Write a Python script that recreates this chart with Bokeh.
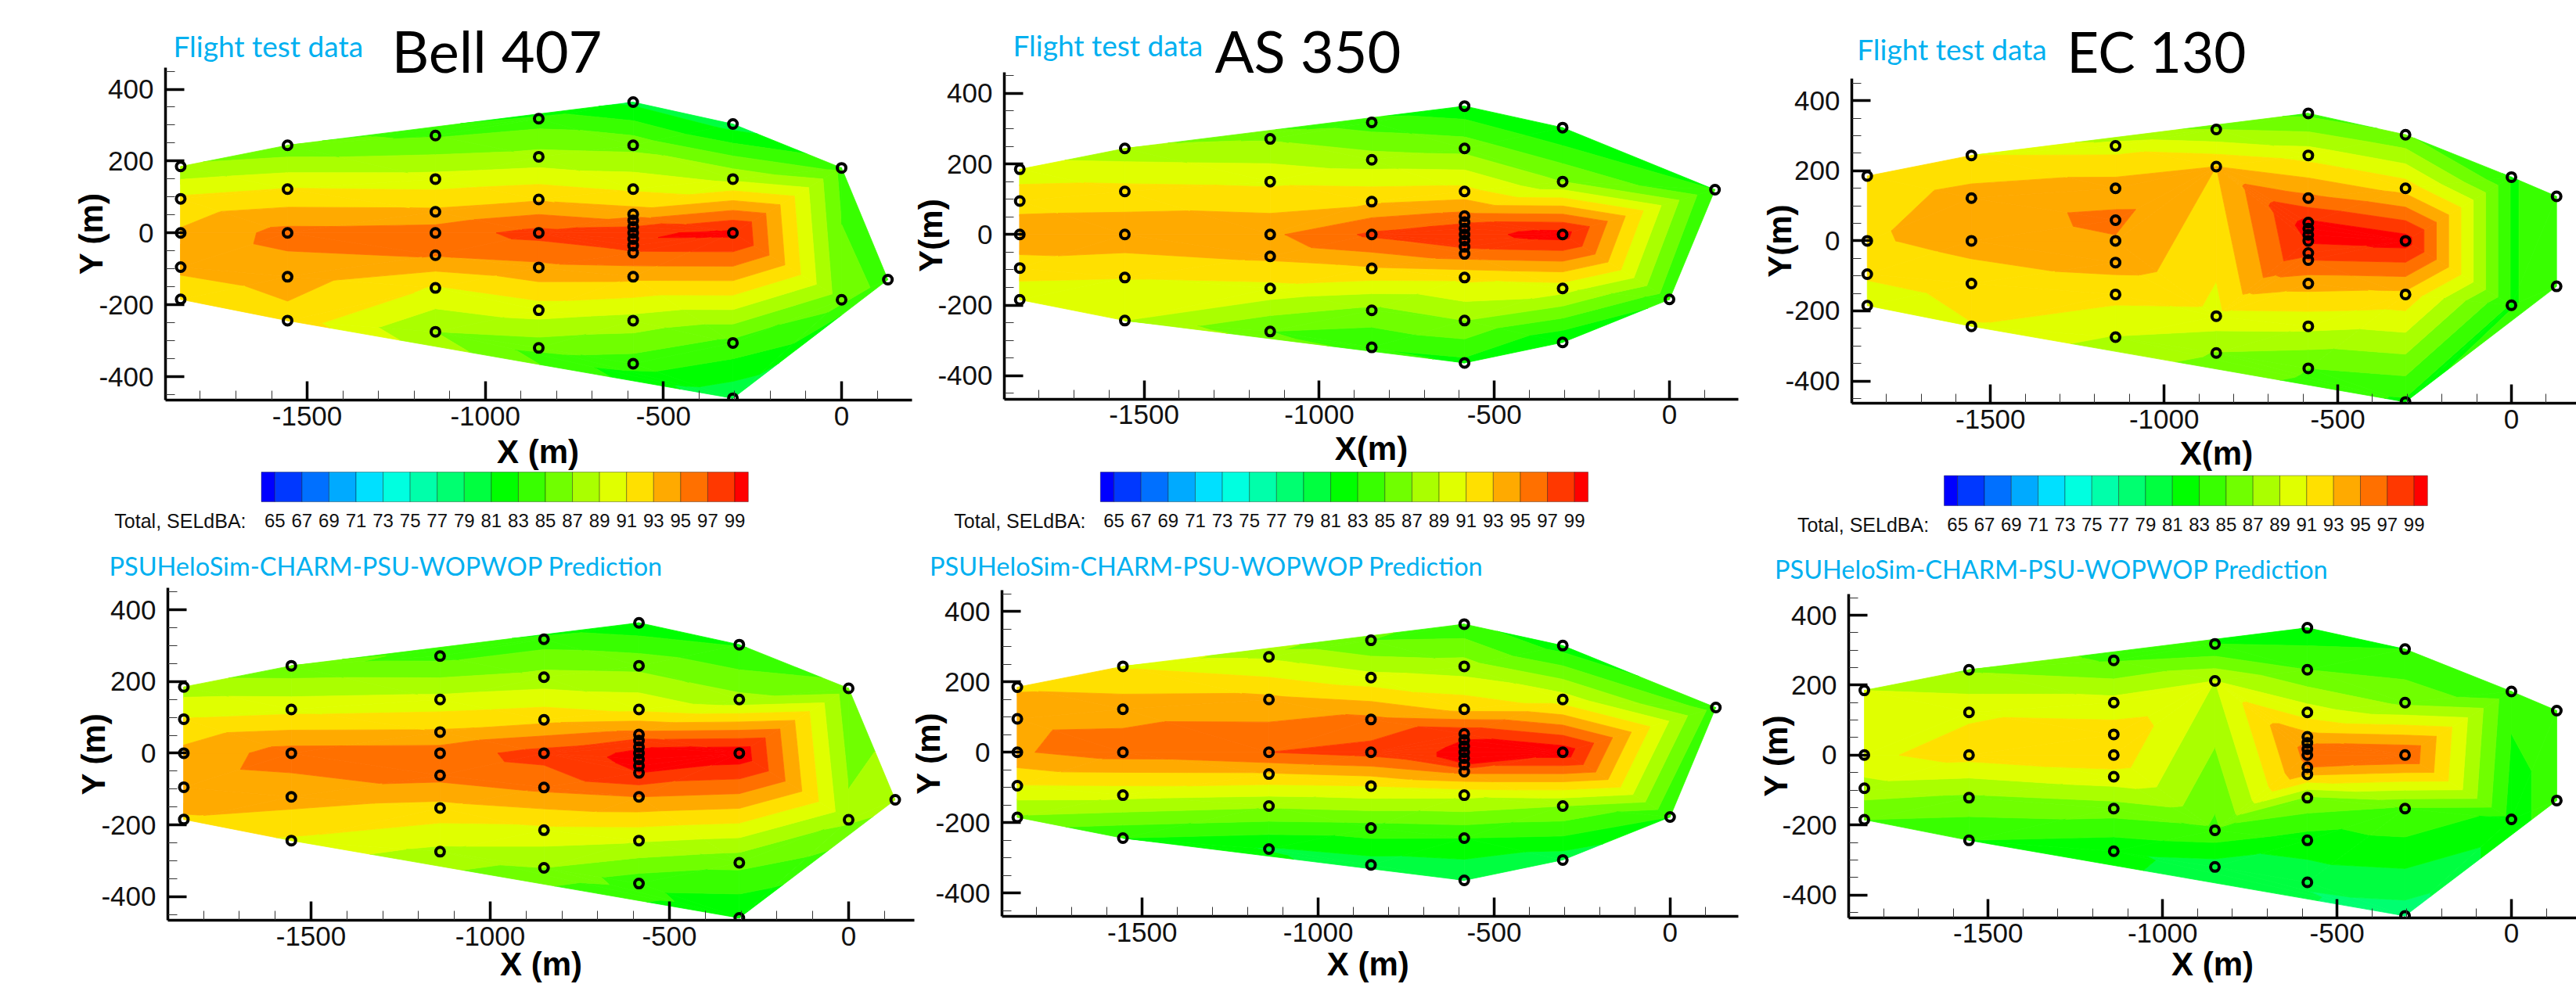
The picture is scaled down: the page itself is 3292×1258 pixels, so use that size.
import math
from bokeh.plotting import figure
from bokeh.layouts import row, column
from bokeh.core.properties import value
from bokeh.models import ColumnDataSource, FixedTicker, LinearAxis, Range1d
from bokeh.embed import file_html
from bokeh.resources import INLINE

# ---------------- data: microphone layouts (m) ----------------
bell_x = [-1855]*5 + [-1555]*5 + [-1140]*7 + [-850]*7 + [-585]*13 + [-305]*5 + [0]*2 + [130]
bell_y = [185, 95, 0, -95, -185,
          244, 122, 0, -122, -244,
          271, 150, 59, 0, -62, -153, -275,
          318, 212, 93, 0, -96, -215, -320,
          364, 244, 122, 52, 35, 17, 0, -17, -35, -55, -122, -244, -364,
          303, 150, 0, -306, -460,
          181, -186,
          -130]
as_x = [-1855]*5 + [-1555]*5 + [-1140]*6 + [-850]*7 + [-585]*13 + [-305]*5 + [0] + [130]
as_y = [185, 95, 0, -95, -185,
        244, 122, 0, -122, -244,
        271, 150, 0, -62, -153, -275,
        318, 212, 93, 0, -96, -215, -320,
        364, 244, 122, 52, 35, 17, 0, -17, -35, -55, -122, -244, -364,
        303, 150, 0, -153, -306,
        -184,
        127]
ec_x = [-1855]*4 + [-1555]*5 + [-1140]*7 + [-850]*4 + [-585]*12 + [-305]*5 + [0]*2 + [130]*2
ec_y = [185, 0, -95, -185,
        244, 122, 0, -122, -244,
        271, 150, 59, 0, -62, -153, -275,
        318, 212, -215, -320,
        364, 244, 122, 52, 35, 17, 0, -35, -55, -122, -244, -364,
        303, 150, 0, -153, -460,
        182, -184,
        127, -130]

# ---------------- data: SEL (dBA) at each microphone ----------------
bell_test_sel = [87.4, 91.4, 93.3, 93.5, 91.5,
                 85.5, 91.1, 95.7, 94.0, 92.2,
                 84.8, 89.8, 93.4, 96.0, 95.1, 90.8, 87.0,
                 84.0, 87.7, 92.8, 97.7, 94.5, 90.0, 85.8,
                 80.5, 86.3, 90.7, 94.0, 96.0, 97.0, 98.5, 98.8, 98.0, 96.8, 93.5, 88.2, 84.0,
                 80.0, 88.6, 99.6, 84.4, 79.5,
                 84.4, 85.8,
                 84.5]
bell_pred_sel = [88.0, 91.1, 93.6, 94.0, 92.8,
                 85.6, 90.4, 95.9, 93.9, 90.7,
                 84.4, 89.6, 93.3, 96.0, 95.7, 92.3, 88.5,
                 84.0, 87.7, 92.4, 97.8, 95.5, 90.5, 87.0,
                 81.5, 86.4, 90.6, 95.8, 97.5, 98.8, 99.4, 99.6, 99.4, 99.0, 95.0, 89.2, 83.7,
                 82.8, 87.6, 100.5, 85.6, 81.0,
                 85.7, 87.4,
                 88.0]
as_test_sel = [89.9, 92.2, 94.2, 92.2, 89.3,
               87.8, 91.7, 94.4, 91.1, 89.0,
               86.8, 90.6, 94.6, 93.4, 90.4, 85.0,
               84.0, 87.9, 92.7, 97.4, 92.8, 86.5, 83.2,
               81.5, 86.3, 91.7, 95.7, 96.8, 97.8, 98.2, 98.0, 97.2, 96.0, 91.5, 87.0, 82.4,
               81.0, 87.0, 100.0, 89.9, 81.0,
               83.5,
               83.0]
as_pred_sel = [92.7, 94.5, 94.8, 90.9, 86.7,
               90.8, 94.2, 96.0, 89.6, 83.0,
               88.7, 93.5, 97.0, 92.8, 87.3, 80.8,
               85.0, 89.7, 95.5, 97.8, 91.0, 84.2, 80.0,
               83.5, 87.9, 92.5, 98.5, 99.0, 99.3, 99.5, 99.5, 98.9, 95.5, 89.5, 83.0, 79.0,
               82.0, 90.0, 100.3, 87.0, 79.8,
               83.0,
               84.0]
ec_test_sel = [91.2, 92.7, 91.3, 89.8,
               91.0, 94.0, 93.8, 91.9, 90.9,
               90.2, 94.0, 95.5, 94.8, 93.8, 91.7, 88.9,
               87.0, 93.0, 90.4, 86.9,
               84.5, 90.2, 95.5, 99.4, 99.8, 100.0, 99.4, 97.5, 97.0, 93.8, 89.5, 85.0,
               85.2, 92.2, 100.0, 92.5, 82.6,
               82.8, 82.8,
               84.0, 84.0]
ec_pred_sel = [89.0, 90.6, 88.2, 85.0,
               86.7, 90.7, 91.8, 86.6, 83.0,
               84.8, 89.8, 92.0, 92.3, 90.3, 86.0, 81.5,
               83.0, 89.0, 84.5, 80.0,
               81.5, 85.0, 90.0, 93.8, 94.8, 95.4, 95.7, 95.0, 93.2, 86.7, 82.0, 79.8,
               83.0, 86.5, 97.0, 84.8, 78.0,
               83.4, 82.2,
               84.0, 84.0]

# ---------------- colour levels and tick labels ----------------
level_edges = [64, 65, 67, 69, 71, 73, 75, 77, 79, 81, 83, 85, 87, 89, 91, 93, 95, 97, 99, 101]
colorbar_edges = [64, 65, 67, 69, 71, 73, 75, 77, 79, 81, 83, 85, 87, 89, 91, 93, 95, 97, 99, 100]
level_colors = ["#0000ff", "#0038ff", "#0070ff", "#00aaff", "#00e0ff", "#00ffe0", "#00ffaa",
                "#00ff70", "#00ff40", "#00ff00", "#38ff00", "#70ff00", "#aaff00", "#e0ff00",
                "#ffe000", "#ffaa00", "#ff7000", "#ff3800", "#ff0000"]
colorbar_ticks = [65, 67, 69, 71, 73, 75, 77, 79, 81, 83, 85, 87, 89, 91, 93, 95, 97, 99]
x_major = [-1500, -1000, -500, 0]
x_minor = [v for v in range(-1800, 200, 100) if v not in x_major]
y_major = [-400, -200, 0, 200, 400]
y_minor = [v for v in range(-450, 500, 50) if v not in y_major]

BLUE = "#00b0f0"
TOTAL_LABEL = "Total, SELdBA:"
PRED_TITLE = "PSUHeloSim-CHARM-PSU-WOPWOP Prediction"
TEST_TITLE = "Flight test data"
BASE_SHIFT = 0.32  # the page draws alphabetic text this many ems below the anchor


def delaunay(px, py):
    # Bowyer-Watson; a tiny offset keeps the straight columns of microphones from being degenerate
    pts = [(x + 1e-3 * ((i * 7) % 11), y + 1e-3 * ((i * 5) % 13)) for i, (x, y) in enumerate(zip(px, py))]
    n = len(pts)
    M = 1e6
    pts += [(-M, -M), (M, -M), (0, M)]
    tris = [(n, n + 1, n + 2)]

    def in_circle(t, p):
        (ax, ay), (bx, by), (cx, cy) = (pts[t[0]], pts[t[1]], pts[t[2]])
        d = 2 * (ax * (by - cy) + bx * (cy - ay) + cx * (ay - by))
        if d == 0:
            return False
        ux = ((ax*ax + ay*ay) * (by - cy) + (bx*bx + by*by) * (cy - ay) + (cx*cx + cy*cy) * (ay - by)) / d
        uy = ((ax*ax + ay*ay) * (cx - bx) + (bx*bx + by*by) * (ax - cx) + (cx*cx + cy*cy) * (bx - ax)) / d
        return (p[0] - ux) ** 2 + (p[1] - uy) ** 2 < (ax - ux) ** 2 + (ay - uy) ** 2

    for i in range(n):
        bad = [t for t in tris if in_circle(t, pts[i])]
        edges = {}
        for t in bad:
            for e in ((t[0], t[1]), (t[1], t[2]), (t[2], t[0])):
                k = tuple(sorted(e))
                edges[k] = edges.get(k, 0) + 1
        tris = [t for t in tris if t not in bad]
        for (a, b), c in edges.items():
            if c == 1:
                tris.append((a, b, i))
    return [t for t in tris if max(t) < n]


def clip(poly, level, keep_above):
    out = []
    for i in range(len(poly)):
        a, b = poly[i], poly[(i + 1) % len(poly)]
        ina = a[2] >= level if keep_above else a[2] <= level
        inb = b[2] >= level if keep_above else b[2] <= level
        if ina:
            out.append(a)
        if ina != inb:
            f = (level - a[2]) / (b[2] - a[2])
            out.append((a[0] + f * (b[0] - a[0]), a[1] + f * (b[1] - a[1]), level))
    return out


def contour_bands(mx, my, sel):
    xs, ys, cs = [], [], []
    for t in delaunay(mx, my):
        tri = [(mx[k], my[k], sel[k]) for k in t]
        for j, c in enumerate(level_colors):
            poly = clip(tri, level_edges[j], True)
            if poly:
                poly = clip(poly, level_edges[j + 1], False)
            if len(poly) >= 3:
                xs.append([q[0] for q in poly])
                ys.append([q[1] for q in poly])
                cs.append(c)
    return dict(xs=xs, ys=ys, c=cs)


def panel(cfg, mx, my, sel):
    cx0, cy0, cx1, cy1 = cfg["cell"]
    L, R, T, B = cfg["frame"]
    x0, sx, y0, sy = cfg["scale"]
    dx = lambda px: (px - x0) / sx
    dy = lambda py: (y0 - py) / sy
    p = figure(width=cx1 - cx0, height=cy1 - cy0, output_backend="svg", toolbar_location=None,
               x_range=Range1d(dx(cx0), dx(cx1)), y_range=Range1d(dy(cy1), dy(cy0)),
               x_axis_type=None, y_axis_type=None,
               min_border_left=0, min_border_right=0, min_border_top=0, min_border_bottom=0)
    p.outline_line_color = None
    p.patches("xs", "ys", source=ColumnDataSource(contour_bands(mx, my, sel)),
              fill_color="c", line_color="c", line_width=0.8)
    p.scatter(mx, my, marker="circle", size=11, fill_alpha=0, line_color="black", line_width=4)
    # nothing shows below the X axis line: a white strip hides the ring that the axis cuts
    p.quad(left=dx(L), right=dx(R), bottom=dy(B + 12), top=dy(B), fill_color="white", line_color=None)

    xaxis = LinearAxis(fixed_location=dy(B), bounds=(dx(L), dx(R)))
    yaxis = LinearAxis(fixed_location=dx(L), bounds=(dy(B), dy(T)))
    p.add_layout(xaxis, "below")
    p.add_layout(yaxis, "left")
    for ax, mj, mn in ((xaxis, x_major, x_minor), (yaxis, y_major, y_minor)):
        ax.ticker = FixedTicker(ticks=mj, minor_ticks=mn)
        ax.major_label_overrides = {v: str(v) for v in mj}
        ax.major_tick_in, ax.major_tick_out = 24, 0
        ax.minor_tick_in, ax.minor_tick_out = 12, 0
        ax.axis_line_width = 3.5
        ax.major_tick_line_width = 3.5
        ax.minor_tick_line_width = 1
        ax.minor_tick_line_color = "#333333"
        ax.major_label_text_font = "Liberation Sans"
        ax.major_label_text_font_size = "35px"
        ax.major_label_text_color = "#111111"
    xaxis.major_label_standoff = 8
    yaxis.major_label_standoff = 15

    def put(text, px, py, size, color="black", style="normal", font="Liberation Sans", align="left", angle=0.0):
        if angle:
            px -= BASE_SHIFT * size
        else:
            py -= BASE_SHIFT * size
        p.text(x=[dx(px)], y=[dy(py)], text=[text], text_font=value(font), text_font_size=f"{size}px",
               text_color=color, text_font_style=style, text_align=align, text_baseline="alphabetic", angle=angle)

    put(cfg["xlabel"], cfg["xlab"][0], cfg["xlab"][1], 42, style="bold", align="center")
    put(cfg["ylabel"], cfg["ylab"], (T + B) / 2, 42, style="bold", align="center", angle=math.pi / 2)
    for txt, px, py, size, color in cfg["titles"]:
        put(txt, px, py, size, color=color, font="Lato")
    return p


def strip(cell, bar, text_right, base):
    cx0, cy0, cx1, cy1 = cell
    L, R, T, B = bar
    k = (R - L) / (colorbar_edges[-1] - colorbar_edges[0])
    db = lambda px: colorbar_edges[0] + (px - L) / k
    base -= BASE_SHIFT * 24
    p = figure(width=cx1 - cx0, height=cy1 - cy0, output_backend="svg", toolbar_location=None,
               x_range=Range1d(db(cx0), db(cx1)), y_range=Range1d(cy1, cy0),
               x_axis_type=None, y_axis_type=None,
               min_border_left=0, min_border_right=0, min_border_top=0, min_border_bottom=0)
    p.outline_line_color = None
    p.quad(left=colorbar_edges[:-1], right=colorbar_edges[1:], bottom=B, top=T, fill_color=level_colors,
           line_color="black", line_alpha=0.35, line_width=1)
    p.text(x=colorbar_ticks, y=[base] * len(colorbar_ticks), text=[str(v) for v in colorbar_ticks],
           text_font=value("Liberation Sans"), text_font_size="24px", text_color="#111111",
           text_align="center", text_baseline="alphabetic")
    p.text(x=[db(text_right)], y=[base], text=[TOTAL_LABEL], text_font=value("Liberation Sans"),
           text_font_size="25px", text_color="#111111", text_align="right", text_baseline="alphabetic")
    return p


top_y = (0, 602)
mid_y = (602, 700)
bot_y = (700, 1258)
top_cells = [(0, 1166), (1166, 2225), (2225, 3292)]
bot_cells = [(0, 1169), (1169, 2222), (2222, 3292)]

cfgs = [
    dict(cell=(top_cells[0][0], top_y[0], top_cells[0][1], top_y[1]), frame=(211, 1165, 85.6, 511),
         scale=(1075, .4553, 297.3, .4595), xlabel="X (m)", ylabel="Y (m)", xlab=(687, 590.6), ylab=129,
         titles=[(TEST_TITLE, 221, 70, 37, BLUE), ("Bell 407", 500, 87.6, 74, "black")]),
    dict(cell=(top_cells[1][0], top_y[0], top_cells[1][1], top_y[1]), frame=(1283, 2221, 91.6, 509.5),
         scale=(2133, .4476, 299.3, .451), xlabel="X(m)", ylabel="Y(m)", xlab=(1752, 586.6), ylab=1202.6,
         titles=[(TEST_TITLE, 1294, 69, 37, BLUE), ("AS 350", 1552, 87.6, 74, "black")]),
    dict(cell=(top_cells[2][0], top_y[0], top_cells[2][1], top_y[1]), frame=(2366, 3292, 100.4, 515),
         scale=(3209, .4438, 307.4, .4478), xlabel="X(m)", ylabel="Y(m)", xlab=(2832, 592.6), ylab=2287,
         titles=[(TEST_TITLE, 2372.7, 74, 37, BLUE), ("EC 130", 2640.8, 87.6, 71, "black")]),
    dict(cell=(bot_cells[0][0], bot_y[0], bot_cells[0][1], bot_y[1]), frame=(214, 1168, 751, 1176),
         scale=(1084, .458, 962.4, .458), xlabel="X (m)", ylabel="Y (m)", xlab=(691, 1245), ylab=132,
         titles=[(PRED_TITLE, 139, 733, 32.5, BLUE)]),
    dict(cell=(bot_cells[1][0], bot_y[0], bot_cells[1][1], bot_y[1]), frame=(1280, 2221, 754, 1171.4),
         scale=(2133.8, .4497, 961.2, .45), xlabel="X (m)", ylabel="Y (m)", xlab=(1747.8, 1245), ylab=1199,
         titles=[(PRED_TITLE, 1187.5, 733, 32.5, BLUE)]),
    dict(cell=(bot_cells[2][0], bot_y[0], bot_cells[2][1], bot_y[1]), frame=(2362, 3292, 759, 1172.7),
         scale=(3209, .4458, 964.8, .447), xlabel="X (m)", ylabel="Y (m)", xlab=(2827, 1245), ylab=2282,
         titles=[(PRED_TITLE, 2267.5, 737, 32.5, BLUE)]),
]

top_row = row(panel(cfgs[0], bell_x, bell_y, bell_test_sel),
              panel(cfgs[1], as_x, as_y, as_test_sel),
              panel(cfgs[2], ec_x, ec_y, ec_test_sel))
mid_row = row(strip((top_cells[0][0], mid_y[0], top_cells[0][1], mid_y[1]), (333.5, 955.8, 603, 641), 314, 673),
              strip((top_cells[1][0], mid_y[0], top_cells[1][1], mid_y[1]), (1405.8, 2029, 603, 641), 1387, 673),
              strip((top_cells[2][0], mid_y[0], top_cells[2][1], mid_y[1]), (2484, 3101.8, 607.5, 646), 2464.6, 678))
bot_row = row(panel(cfgs[3], bell_x, bell_y, bell_pred_sel),
              panel(cfgs[4], as_x, as_y, as_pred_sel),
              panel(cfgs[5], ec_x, ec_y, ec_pred_sel))
page = column(top_row, mid_row, bot_row)
open("out.html", "w").write(file_html(page, INLINE))
